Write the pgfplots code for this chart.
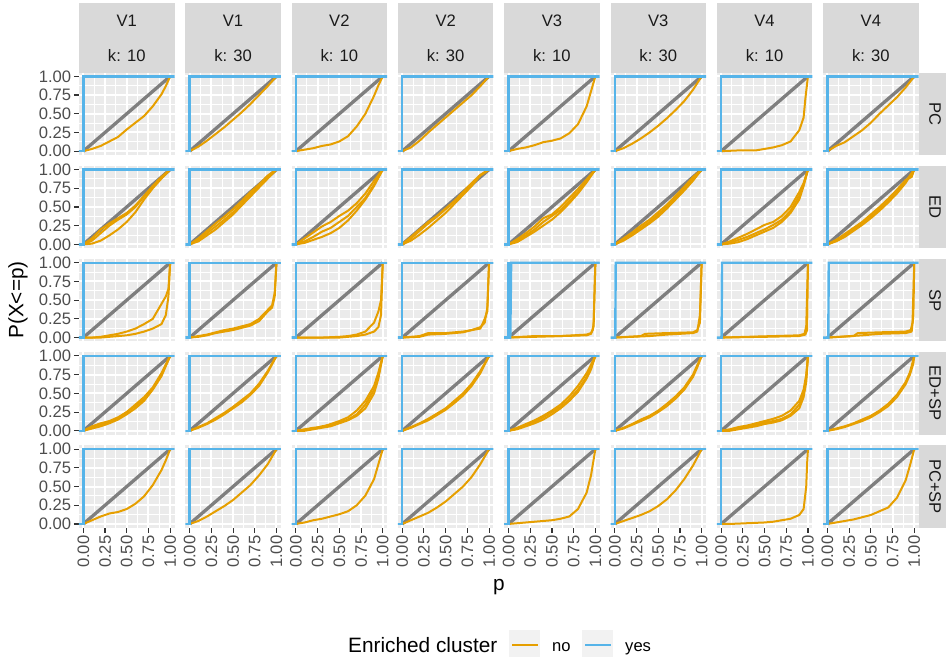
\documentclass[border=0pt]{standalone}
\usepackage{fontspec}
\setmainfont{Liberation Sans}
\usepackage{pgfplots}
\pgfplotsset{compat=1.18}
\usepgfplotslibrary{groupplots}

\definecolor{ggbg}{HTML}{EBEBEB}
\definecolor{ggstrip}{HTML}{D9D9D9}
\definecolor{ggorange}{HTML}{E69F00}
\definecolor{ggblue}{HTML}{56B4E9}
\definecolor{ggdiag}{HTML}{7F7F7F}
\definecolor{ggtick}{HTML}{4D4D4D}
\definecolor{ggtickline}{HTML}{333333}
\definecolor{ggtext}{HTML}{1A1A1A}
\definecolor{ggkey}{HTML}{F2F2F2}

\newcommand\ggsmall{\fontsize{16.6}{19.9}\selectfont}
\newcommand\ggbig{\fontsize{20.8}{25}\selectfont}

\pgfplotsset{
  diagline/.style={color=ggdiag, line width=3.3pt, no marks},
  nocl/.style={color=ggorange, line width=2pt, no marks, line join=round},
  yescl/.style={color=ggblue, line width=2.4pt, no marks},
  leftcol/.style={yticklabels={0.00,0.25,0.50,0.75,1.00}, ytick style={draw=ggtickline, line width=1.1pt}},
  bottomrow/.style={xticklabels={0.00,0.25,0.50,0.75,1.00}, xtick style={draw=ggtickline, line width=1.1pt}},
}
\newcommand\diag{\addplot[diagline] coordinates {(0,0) (1,1)};}
\newcommand\yes{\addplot[yescl] coordinates {(-0.1,0) (0,0) (0,1) (1.1,1)};}

\begin{document}
\begin{tikzpicture}
\begin{groupplot}[
  group style={group size=8 by 5, horizontal sep=10.8pt, vertical sep=10.9pt},
  width=95.5pt, height=82.3pt, scale only axis,
  xmin=-0.05, xmax=1.05, ymin=-0.05, ymax=1.05,
  axis background/.style={fill=ggbg},
  axis line style={draw=none},
  xtick={0,0.25,0.5,0.75,1}, ytick={0,0.25,0.5,0.75,1},
  minor xtick={0.125,0.375,0.625,0.875}, minor ytick={0.125,0.375,0.625,0.875},
  grid=both,
  major grid style={white, line width=2pt},
  minor grid style={white, line width=1pt},
  xticklabels={}, yticklabels={},
  tick align=outside, tick pos=left,
  major tick length=5.2pt, minor tick length=0pt,
  xtick style={draw=none}, ytick style={draw=none},
  tick label style={font=\ggsmall, text=ggtick, inner sep=2.5pt},
  xticklabel style={rotate=90, anchor=east},
]
% ---------------- Row 1: PC ----------------
\nextgroupplot[leftcol]
\diag
\addplot[nocl] coordinates {(0,0)(0.1,0.03)(0.2,0.07)(0.3,0.13)(0.4,0.19)(0.5,0.29)(0.6,0.38)(0.7,0.47)(0.8,0.6)(0.9,0.76)(0.95,0.87)(1,1)};
\yes
\nextgroupplot
\diag
\addplot[nocl] coordinates {(0,0)(0.1,0.06)(0.2,0.14)(0.3,0.23)(0.4,0.32)(0.5,0.42)(0.6,0.52)(0.7,0.63)(0.8,0.75)(0.9,0.87)(1,1)};
\yes
\nextgroupplot
\diag
\addplot[nocl] coordinates {(0,0)(0.1,0.02)(0.2,0.04)(0.3,0.07)(0.4,0.09)(0.5,0.13)(0.6,0.2)(0.7,0.33)(0.8,0.5)(0.9,0.74)(0.95,0.88)(1,1)};
\yes
\nextgroupplot
\diag
\addplot[nocl] coordinates {(0,0)(0.1,0.05)(0.2,0.14)(0.3,0.25)(0.4,0.35)(0.5,0.45)(0.6,0.55)(0.7,0.65)(0.8,0.75)(0.9,0.87)(1,1)};
\yes
\nextgroupplot
\diag
\addplot[nocl] coordinates {(0,0)(0.1,0.03)(0.2,0.05)(0.3,0.08)(0.4,0.12)(0.5,0.14)(0.6,0.17)(0.7,0.24)(0.8,0.36)(0.9,0.6)(0.95,0.8)(1,1)};
\yes
\nextgroupplot
\diag
\addplot[nocl] coordinates {(0,0)(0.1,0.04)(0.2,0.1)(0.3,0.17)(0.4,0.25)(0.5,0.34)(0.6,0.44)(0.7,0.55)(0.8,0.67)(0.9,0.82)(1,1)};
\yes
\nextgroupplot
\diag
\addplot[nocl] coordinates {(0,0)(0.2,0.01)(0.4,0.01)(0.5,0.03)(0.6,0.05)(0.7,0.08)(0.8,0.13)(0.9,0.28)(0.95,0.45)(0.97,0.7)(0.985,0.85)(1,1)};
\yes
\nextgroupplot
\diag
\addplot[nocl] coordinates {(0,0)(0.1,0.07)(0.2,0.12)(0.3,0.2)(0.4,0.28)(0.5,0.38)(0.6,0.5)(0.7,0.61)(0.8,0.72)(0.9,0.85)(1,1)};
\yes
% ---------------- Row 2: ED ----------------
\nextgroupplot[leftcol]
\diag
\addplot[nocl] coordinates {(0,0)(0.1,0.05)(0.2,0.15)(0.3,0.25)(0.4,0.33)(0.5,0.4)(0.6,0.5)(0.7,0.64)(0.8,0.78)(0.9,0.9)(1,1)};
\addplot[nocl] coordinates {(0,0)(0.1,0.08)(0.2,0.2)(0.3,0.28)(0.4,0.35)(0.5,0.42)(0.6,0.52)(0.7,0.65)(0.8,0.78)(0.9,0.9)(1,1)};
\addplot[nocl] coordinates {(0,0)(0.1,0.01)(0.2,0.05)(0.3,0.12)(0.4,0.2)(0.5,0.3)(0.6,0.43)(0.7,0.6)(0.8,0.75)(0.9,0.88)(1,1)};
\yes
\nextgroupplot
\diag
\addplot[nocl] coordinates {(0,0)(0.1,0.06)(0.2,0.15)(0.3,0.24)(0.4,0.33)(0.5,0.43)(0.6,0.55)(0.7,0.67)(0.8,0.78)(0.9,0.9)(1,1)};
\addplot[nocl] coordinates {(0,0)(0.1,0.08)(0.2,0.18)(0.3,0.28)(0.4,0.37)(0.5,0.47)(0.6,0.58)(0.7,0.7)(0.8,0.8)(0.9,0.92)(1,1)};
\addplot[nocl] coordinates {(0,0)(0.1,0.04)(0.2,0.12)(0.3,0.2)(0.4,0.3)(0.5,0.4)(0.6,0.52)(0.7,0.64)(0.8,0.76)(0.9,0.88)(1,1)};
\yes
\nextgroupplot
\diag
\addplot[nocl] coordinates {(0,0)(0.1,0.04)(0.2,0.1)(0.3,0.17)(0.4,0.22)(0.5,0.3)(0.6,0.38)(0.7,0.5)(0.8,0.62)(0.9,0.8)(1,1)};
\addplot[nocl] coordinates {(0,0)(0.1,0.08)(0.2,0.16)(0.3,0.24)(0.4,0.3)(0.5,0.38)(0.6,0.45)(0.7,0.55)(0.8,0.68)(0.9,0.85)(1,1)};
\addplot[nocl] coordinates {(0,0)(0.1,0.02)(0.2,0.06)(0.3,0.1)(0.4,0.15)(0.5,0.22)(0.6,0.32)(0.7,0.45)(0.8,0.6)(0.9,0.78)(1,1)};
\yes
\nextgroupplot
\diag
\addplot[nocl] coordinates {(0,0)(0.1,0.08)(0.2,0.18)(0.3,0.28)(0.4,0.37)(0.5,0.47)(0.6,0.57)(0.7,0.68)(0.8,0.8)(0.9,0.92)(1,1)};
\addplot[nocl] coordinates {(0,0)(0.1,0.05)(0.2,0.13)(0.3,0.22)(0.4,0.32)(0.5,0.42)(0.6,0.54)(0.7,0.66)(0.8,0.78)(0.9,0.92)(1,1)};
\addplot[nocl] coordinates {(0,0)(0.1,0.1)(0.2,0.2)(0.3,0.3)(0.4,0.38)(0.5,0.48)(0.6,0.58)(0.7,0.7)(0.8,0.82)(0.9,0.93)(1,1)};
\yes
\nextgroupplot
\diag
\addplot[nocl] coordinates {(0,0)(0.1,0.05)(0.2,0.12)(0.3,0.2)(0.4,0.3)(0.5,0.38)(0.6,0.46)(0.7,0.58)(0.8,0.7)(0.9,0.85)(1,1)};
\addplot[nocl] coordinates {(0,0)(0.1,0.07)(0.2,0.15)(0.3,0.24)(0.4,0.35)(0.5,0.4)(0.6,0.5)(0.7,0.62)(0.8,0.74)(0.9,0.87)(1,1)};
\addplot[nocl] coordinates {(0,0)(0.1,0.03)(0.2,0.1)(0.3,0.17)(0.4,0.25)(0.5,0.33)(0.6,0.43)(0.7,0.55)(0.8,0.68)(0.9,0.83)(1,1)};
\yes
\nextgroupplot
\diag
\addplot[nocl] coordinates {(0,0)(0.1,0.06)(0.2,0.14)(0.3,0.22)(0.4,0.3)(0.5,0.4)(0.6,0.5)(0.7,0.62)(0.8,0.74)(0.9,0.87)(1,1)};
\addplot[nocl] coordinates {(0,0)(0.1,0.08)(0.2,0.16)(0.3,0.25)(0.4,0.33)(0.5,0.43)(0.6,0.53)(0.7,0.65)(0.8,0.77)(0.9,0.9)(1,1)};
\addplot[nocl] coordinates {(0,0)(0.1,0.05)(0.2,0.12)(0.3,0.2)(0.4,0.28)(0.5,0.37)(0.6,0.48)(0.7,0.6)(0.8,0.72)(0.9,0.85)(1,1)};
\yes
\nextgroupplot
\diag
\addplot[nocl] coordinates {(0,0)(0.1,0.02)(0.2,0.06)(0.3,0.1)(0.4,0.15)(0.5,0.2)(0.6,0.26)(0.7,0.33)(0.8,0.45)(0.9,0.65)(0.95,0.8)(1,1)};
\addplot[nocl] coordinates {(0,0)(0.1,0.04)(0.2,0.09)(0.3,0.14)(0.4,0.2)(0.5,0.26)(0.6,0.3)(0.7,0.38)(0.8,0.5)(0.9,0.7)(0.95,0.82)(1,1)};
\addplot[nocl] coordinates {(0,0)(0.1,0.01)(0.2,0.03)(0.3,0.07)(0.4,0.12)(0.5,0.17)(0.6,0.22)(0.7,0.3)(0.8,0.42)(0.9,0.6)(0.95,0.78)(1,1)};
\yes
\nextgroupplot
\diag
\addplot[nocl] coordinates {(0,0)(0.1,0.05)(0.2,0.12)(0.3,0.2)(0.4,0.28)(0.5,0.37)(0.6,0.47)(0.7,0.58)(0.8,0.7)(0.9,0.84)(1,1)};
\addplot[nocl] coordinates {(0,0)(0.1,0.06)(0.2,0.14)(0.3,0.22)(0.4,0.3)(0.5,0.4)(0.6,0.5)(0.7,0.61)(0.8,0.73)(0.9,0.86)(0.97,0.9)(1,1)};
\addplot[nocl] coordinates {(0,0)(0.1,0.04)(0.2,0.1)(0.3,0.18)(0.4,0.26)(0.5,0.35)(0.6,0.45)(0.7,0.56)(0.8,0.68)(0.9,0.82)(1,1)};
\yes
% ---------------- Row 3: SP ----------------
\nextgroupplot[leftcol]
\diag
\addplot[nocl] coordinates {(0,0)(0.1,0.0)(0.2,0.01)(0.3,0.03)(0.4,0.05)(0.5,0.08)(0.6,0.12)(0.7,0.18)(0.8,0.25)(0.9,0.45)(0.95,0.55)(0.98,0.65)(1,1)};
\addplot[nocl] coordinates {(0,0)(0.2,0.0)(0.3,0.01)(0.4,0.02)(0.5,0.03)(0.6,0.05)(0.7,0.08)(0.8,0.12)(0.9,0.18)(0.95,0.3)(0.98,0.55)(1,1)};
\yes
\nextgroupplot
\diag
\addplot[nocl] coordinates {(0,0)(0.1,0.01)(0.2,0.03)(0.3,0.06)(0.4,0.08)(0.5,0.1)(0.6,0.13)(0.7,0.16)(0.8,0.22)(0.9,0.35)(0.95,0.4)(0.98,0.55)(1,1)};
\addplot[nocl] coordinates {(0,0)(0.1,0.02)(0.2,0.04)(0.3,0.07)(0.4,0.1)(0.5,0.12)(0.6,0.15)(0.7,0.18)(0.8,0.25)(0.9,0.37)(0.95,0.43)(0.98,0.6)(1,1)};
\yes
\nextgroupplot
\diag
\addplot[nocl] coordinates {(0,0)(0.3,0.0)(0.5,0.01)(0.6,0.02)(0.7,0.04)(0.8,0.08)(0.9,0.2)(0.95,0.35)(0.98,0.5)(1,1)};
\addplot[nocl] coordinates {(0,0)(0.5,0.0)(0.6,0.01)(0.7,0.02)(0.8,0.04)(0.9,0.08)(0.95,0.14)(0.98,0.3)(1,1)};
\yes
\nextgroupplot
\diag
\addplot[nocl] coordinates {(0,0)(0.2,0.01)(0.3,0.04)(0.5,0.05)(0.7,0.07)(0.8,0.1)(0.9,0.12)(0.95,0.25)(0.98,0.35)(1,1)};
\addplot[nocl] coordinates {(0,0)(0.2,0.02)(0.3,0.06)(0.5,0.06)(0.7,0.08)(0.8,0.1)(0.9,0.14)(0.95,0.2)(0.98,0.4)(1,1)};
\yes
\nextgroupplot
\diag
\addplot[nocl] coordinates {(0,0)(0.3,0.01)(0.6,0.02)(0.9,0.04)(0.95,0.06)(0.97,0.1)(0.98,0.2)(1,1)};
\addplot[nocl] coordinates {(0,0)(0.3,0.02)(0.6,0.02)(0.9,0.03)(0.95,0.05)(0.98,0.15)(1,1)};
\addplot[yescl] coordinates {(-0.1,0)(0.02,0)(0.03,1)(1.1,1)};
\yes
\nextgroupplot
\diag
\addplot[nocl] coordinates {(0,0)(0.3,0.02)(0.35,0.05)(0.6,0.06)(0.9,0.07)(0.95,0.1)(0.98,0.2)(1,1)};
\addplot[nocl] coordinates {(0,0)(0.4,0.02)(0.6,0.04)(0.9,0.06)(0.95,0.08)(0.98,0.3)(1,1)};
\addplot[yescl] coordinates {(-0.1,0)(0.005,0)(0.01,1)(1.1,1)};
\nextgroupplot
\diag
\addplot[nocl] coordinates {(0,0)(0.3,0.01)(0.6,0.02)(0.9,0.03)(0.96,0.05)(0.98,0.15)(1,1)};
\addplot[nocl] coordinates {(0,0)(0.5,0.01)(0.9,0.02)(0.97,0.04)(0.99,0.1)(1,1)};
\addplot[yescl] coordinates {(-0.1,0)(0.005,0)(0.01,1)(1.1,1)};
\nextgroupplot
\diag
\addplot[nocl] coordinates {(0,0)(0.3,0.02)(0.35,0.06)(0.6,0.07)(0.9,0.08)(0.96,0.1)(0.98,0.2)(1,1)};
\addplot[nocl] coordinates {(0,0)(0.4,0.03)(0.6,0.05)(0.9,0.06)(0.97,0.08)(0.99,0.3)(1,1)};
\addplot[yescl] coordinates {(-0.1,0)(0.01,0)(0.015,1)(1.1,1)};
% ---------------- Row 4: ED+SP ----------------
\nextgroupplot[leftcol]
\diag
\addplot[nocl] coordinates {(0,0)(0.1,0.06)(0.2,0.1)(0.3,0.13)(0.4,0.18)(0.5,0.25)(0.6,0.33)(0.7,0.42)(0.8,0.56)(0.9,0.75)(1,1)};
\addplot[nocl] coordinates {(0,0)(0.1,0.04)(0.2,0.08)(0.3,0.11)(0.4,0.17)(0.5,0.25)(0.6,0.35)(0.7,0.45)(0.8,0.58)(0.9,0.77)(1,1)};
\addplot[nocl] coordinates {(0,0)(0.1,0.03)(0.2,0.06)(0.3,0.1)(0.4,0.15)(0.5,0.22)(0.6,0.3)(0.7,0.4)(0.8,0.55)(0.9,0.73)(1,1)};
\yes
\nextgroupplot
\diag
\addplot[nocl] coordinates {(0,0)(0.1,0.04)(0.2,0.09)(0.3,0.15)(0.4,0.22)(0.5,0.3)(0.6,0.38)(0.7,0.48)(0.8,0.6)(0.9,0.78)(1,1)};
\addplot[nocl] coordinates {(0,0)(0.1,0.05)(0.2,0.1)(0.3,0.17)(0.4,0.24)(0.5,0.32)(0.6,0.41)(0.7,0.5)(0.8,0.63)(0.9,0.8)(1,1)};
\yes
\nextgroupplot
\diag
\addplot[nocl] coordinates {(0,0)(0.1,0.01)(0.2,0.03)(0.3,0.06)(0.4,0.08)(0.5,0.11)(0.6,0.15)(0.7,0.22)(0.8,0.35)(0.9,0.55)(0.95,0.75)(1,1)};
\addplot[nocl] coordinates {(0,0)(0.1,0.02)(0.2,0.04)(0.3,0.05)(0.4,0.09)(0.5,0.13)(0.6,0.18)(0.7,0.27)(0.8,0.4)(0.9,0.6)(0.95,0.78)(1,1)};
\addplot[nocl] coordinates {(0,0)(0.1,0.0)(0.2,0.02)(0.3,0.04)(0.4,0.06)(0.5,0.1)(0.6,0.14)(0.7,0.2)(0.8,0.3)(0.9,0.5)(0.95,0.7)(1,1)};
\yes
\nextgroupplot
\diag
\addplot[nocl] coordinates {(0,0)(0.1,0.05)(0.2,0.1)(0.3,0.16)(0.4,0.23)(0.5,0.3)(0.6,0.4)(0.7,0.5)(0.8,0.63)(0.9,0.8)(1,1)};
\addplot[nocl] coordinates {(0,0)(0.1,0.04)(0.2,0.09)(0.3,0.14)(0.4,0.21)(0.5,0.28)(0.6,0.37)(0.7,0.47)(0.8,0.6)(0.9,0.77)(1,1)};
\yes
\nextgroupplot
\diag
\addplot[nocl] coordinates {(0,0)(0.1,0.03)(0.2,0.08)(0.3,0.12)(0.4,0.18)(0.5,0.25)(0.6,0.32)(0.7,0.42)(0.8,0.55)(0.9,0.72)(0.95,0.85)(1,1)};
\addplot[nocl] coordinates {(0,0)(0.1,0.04)(0.2,0.09)(0.3,0.14)(0.4,0.2)(0.5,0.27)(0.6,0.35)(0.7,0.46)(0.8,0.6)(0.9,0.77)(1,1)};
\addplot[nocl] coordinates {(0,0)(0.1,0.02)(0.2,0.06)(0.3,0.1)(0.4,0.15)(0.5,0.22)(0.6,0.3)(0.7,0.4)(0.8,0.52)(0.9,0.7)(0.95,0.82)(1,1)};
\yes
\nextgroupplot
\diag
\addplot[nocl] coordinates {(0,0)(0.1,0.04)(0.2,0.09)(0.3,0.15)(0.4,0.2)(0.5,0.27)(0.6,0.36)(0.7,0.46)(0.8,0.58)(0.9,0.75)(0.95,0.88)(1,1)};
\addplot[nocl] coordinates {(0,0)(0.1,0.03)(0.2,0.08)(0.3,0.13)(0.4,0.18)(0.5,0.25)(0.6,0.33)(0.7,0.43)(0.8,0.55)(0.9,0.72)(0.95,0.85)(1,1)};
\yes
\nextgroupplot
\diag
\addplot[nocl] coordinates {(0,0)(0.1,0.01)(0.2,0.03)(0.3,0.06)(0.4,0.08)(0.5,0.11)(0.6,0.13)(0.7,0.16)(0.8,0.22)(0.9,0.35)(0.95,0.5)(0.98,0.7)(1,1)};
\addplot[nocl] coordinates {(0,0)(0.1,0.02)(0.2,0.05)(0.3,0.07)(0.4,0.1)(0.5,0.13)(0.6,0.16)(0.7,0.2)(0.8,0.27)(0.9,0.4)(0.95,0.55)(0.98,0.75)(1,1)};
\addplot[nocl] coordinates {(0,0)(0.1,0.0)(0.2,0.02)(0.3,0.04)(0.4,0.06)(0.5,0.09)(0.6,0.11)(0.7,0.14)(0.8,0.2)(0.9,0.3)(0.95,0.45)(0.98,0.65)(1,1)};
\yes
\nextgroupplot
\diag
\addplot[nocl] coordinates {(0,0)(0.1,0.02)(0.2,0.05)(0.3,0.09)(0.4,0.13)(0.5,0.18)(0.6,0.25)(0.7,0.33)(0.8,0.45)(0.9,0.62)(0.95,0.75)(0.99,0.9)(1,1)};
\addplot[nocl] coordinates {(0,0)(0.1,0.03)(0.2,0.06)(0.3,0.1)(0.4,0.15)(0.5,0.2)(0.6,0.27)(0.7,0.36)(0.8,0.48)(0.9,0.65)(0.95,0.78)(1,1)};
\yes
% ---------------- Row 5: PC+SP ----------------
\nextgroupplot[leftcol,bottomrow]
\diag
\addplot[nocl] coordinates {(0,0)(0.1,0.05)(0.2,0.1)(0.3,0.14)(0.4,0.16)(0.5,0.2)(0.6,0.27)(0.7,0.37)(0.8,0.52)(0.9,0.72)(0.95,0.85)(1,1)};
\yes
\nextgroupplot[bottomrow]
\diag
\addplot[nocl] coordinates {(0,0)(0.1,0.04)(0.2,0.1)(0.3,0.17)(0.4,0.24)(0.5,0.32)(0.6,0.42)(0.7,0.52)(0.8,0.65)(0.9,0.8)(1,1)};
\yes
\nextgroupplot[bottomrow]
\diag
\addplot[nocl] coordinates {(0,0)(0.1,0.02)(0.2,0.05)(0.3,0.07)(0.4,0.1)(0.5,0.13)(0.6,0.17)(0.7,0.25)(0.8,0.38)(0.9,0.6)(0.95,0.8)(1,1)};
\yes
\nextgroupplot[bottomrow]
\diag
\addplot[nocl] coordinates {(0,0)(0.1,0.05)(0.2,0.1)(0.3,0.15)(0.4,0.22)(0.5,0.3)(0.6,0.4)(0.7,0.5)(0.8,0.63)(0.9,0.8)(1,1)};
\yes
\nextgroupplot[bottomrow]
\diag
\addplot[nocl] coordinates {(0,0)(0.1,0.01)(0.2,0.02)(0.3,0.03)(0.4,0.04)(0.5,0.05)(0.6,0.07)(0.7,0.1)(0.8,0.2)(0.9,0.42)(0.95,0.65)(1,1)};
\yes
\nextgroupplot[bottomrow]
\diag
\addplot[nocl] coordinates {(0,0)(0.1,0.04)(0.2,0.08)(0.3,0.12)(0.4,0.17)(0.5,0.24)(0.6,0.33)(0.7,0.45)(0.8,0.6)(0.9,0.78)(1,1)};
\yes
\nextgroupplot[bottomrow]
\diag
\addplot[nocl] coordinates {(0,0)(0.1,0.0)(0.3,0.01)(0.5,0.02)(0.6,0.03)(0.7,0.05)(0.8,0.07)(0.9,0.12)(0.95,0.2)(0.98,0.5)(0.99,0.8)(1,1)};
\yes
\nextgroupplot[bottomrow]
\diag
\addplot[nocl] coordinates {(0,0)(0.1,0.02)(0.2,0.04)(0.3,0.06)(0.4,0.09)(0.5,0.12)(0.6,0.17)(0.7,0.22)(0.8,0.35)(0.9,0.58)(0.95,0.78)(1,1)};
\yes
\end{groupplot}

% strips
\foreach \c/\v/\k in {1/V1/10,2/V1/30,3/V2/10,4/V2/30,5/V3/10,6/V3/30,7/V4/10,8/V4/30}{
  \fill[ggstrip] (group c\c r1.north west) rectangle ([yshift=69.3pt]group c\c r1.north east);
  \node[anchor=base, inner sep=0pt, text=ggtext, font=\ggsmall] at ([yshift=46pt]group c\c r1.north) {\v};
  \node[anchor=base, inner sep=0pt, text=ggtext, font=\ggsmall] at ([yshift=11.6pt]group c\c r1.north) {k: \k};
}
\foreach \r/\lab in {1/PC,2/ED,3/SP,4/ED+SP,5/PC+SP}{
  \fill[ggstrip] (group c8r\r.north east) rectangle ([xshift=28pt]group c8r\r.south east);
  \node[rotate=-90, inner sep=0pt, text=ggtext, font=\ggsmall] at ([xshift=16.4pt]group c8r\r.east) {\lab};
}

\path (group c1r1.north west) ++(-79pt,72.6pt) coordinate (O);
\begin{scope}[shift={(O)}, x=1pt, y=-1pt]
  \node[rotate=90, font=\ggbig, text=black, inner sep=0pt] at (18,300) {P(X<=p)};
  \node[anchor=base, font=\ggbig, text=black, inner sep=0pt] at (498.8,590) {p};
  \node[anchor=base west, font=\ggbig, text=black, inner sep=0pt] at (348,652.3) {Enriched cluster};
  \fill[ggkey] (509.3,629.5) rectangle (540.3,657);
  \draw[ggorange, line width=2pt] (512,644.5) -- (537.5,644.5);
  \node[anchor=base west, font=\ggsmall, text=black, inner sep=0pt] at (552,651) {no};
  \fill[ggkey] (582.3,629.5) rectangle (613,657);
  \draw[ggblue, line width=2pt] (585,644.5) -- (610.5,644.5);
  \node[anchor=base west, font=\ggsmall, text=black, inner sep=0pt] at (625,651) {yes};
\end{scope}
\pgfresetboundingbox
\path[use as bounding box] (O) rectangle ++(946pt,-657pt);
\end{tikzpicture}
\end{document}
